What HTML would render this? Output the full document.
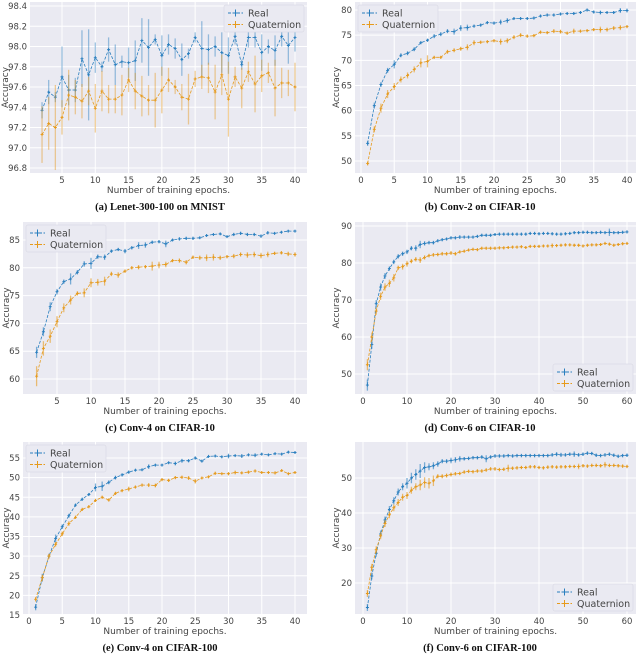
<!DOCTYPE html>
<html><head><meta charset="utf-8"><style>
body{margin:0;background:#fff;}
svg{display:block;font-family:"DejaVu Sans","Liberation Sans",sans-serif;}
.tk{font-size:8.5px;fill:#444;}
.ax{font-size:9px;fill:#444;}
.ttl{font-family:"Liberation Serif",serif;font-weight:bold;font-size:10.5px;fill:#111;}
.lg{font-size:9.5px;fill:#444;}
</style></head><body>
<svg id="fig" width="640" height="660" viewBox="0 0 640 660"></svg>
<script>
// ---- data ----
const aStart = 2;
const aReal = [97.37,97.55,97.5,97.7,97.57,97.57,97.88,97.72,97.89,97.8,97.97,97.82,97.85,97.84,97.86,98.06,97.99,98.07,97.91,98.02,97.98,97.87,97.93,98.09,97.98,97.97,98.0,97.94,97.91,98.1,97.82,98.09,98.09,97.94,98.0,97.96,98.1,98.01,98.09];
const aRealErr = [.08,.12,.05,.3,.15,.12,.28,.45,.15,.05,.12,.2,.06,.15,.2,.22,.28,.05,.2,.1,.1,.16,.05,.05,.27,.15,.1,.2,.18,.08,.05,.1,.1,.18,.07,.15,.1,.18,.14];
const aQuat = [97.13,97.24,97.2,97.3,97.52,97.5,97.46,97.56,97.39,97.56,97.48,97.48,97.52,97.67,97.56,97.51,97.47,97.47,97.57,97.67,97.6,97.5,97.48,97.68,97.7,97.69,97.55,97.72,97.48,97.7,97.59,97.75,97.63,97.71,97.74,97.59,97.64,97.64,97.6];
const aQuatErr = [.28,.26,.42,.17,.25,.17,.17,.14,.24,.2,.14,.14,.2,.12,.18,.2,.15,.27,.23,.12,.07,.13,.25,.08,.12,.15,.27,.2,.37,.1,.2,.1,.28,.16,.1,.28,.15,.13,.24];
const aXTicks = [5,10,15,20,25,30,35,40];
const aYTicks = [96.8,97.0,97.2,97.4,97.6,97.8,98.0,98.2,98.4];

const bStart = 1;
const bReal = [53.5,61,65.2,68,69.2,71,71.4,72.2,73.5,74,74.8,75.2,75.8,75.7,76.4,76.5,76.8,77,77.5,77.4,77.6,77.9,78.3,78.3,78.3,78.4,78.8,79,79,79.2,79.3,79.3,79.5,80,79.6,79.5,79.5,79.5,79.9,79.9];
const bRealErr = [.5,.6,.5,.5,.8,.4,.4,.4,.3,.3,.4,.4,.4,.6,.6,.6,.3,.3,.3,.3,.5,.5,.3,.3,.3,.3,.3,.3,.3,.3,.3,.3,.3,.3,.3,.4,.3,.3,.5,.4];
const bQuat = [49.5,56.3,60.5,63.3,64.8,66.2,67,68.2,69.5,69.8,70.6,70.6,71.7,72,72.3,72.6,73.5,73.6,73.7,73.9,73.7,73.9,74.6,75,74.8,74.9,75.6,75.5,75.8,75.7,75.4,75.8,75.8,75.9,76.1,76.1,76.1,76.4,76.5,76.7];
const bQuatErr = [.4,.6,.9,.8,.7,.6,.6,.6,.9,1.2,.3,.3,.4,.4,.4,.6,.5,.3,.3,.3,.6,.5,.4,.4,.3,.3,.3,.3,.4,.4,.3,.5,.3,.3,.3,.6,.4,.4,.5,.3];
const bXTicks = [0,5,10,15,20,25,30,35,40];
const bYTicks = [50,55,60,65,70,75,80];

const cStart = 2;
const cReal = [64.8,68.5,73,75.7,77.5,78,79.2,80.7,80.8,82,81.9,83,83.3,83,83.6,84,84.1,84.6,84.7,84.3,85,85.2,85.3,85.3,85.4,85.8,86,86.1,85.6,86,86.2,86,86,85.7,86.3,86.2,86.4,86.6,86.6];
const cRealErr = [1,.8,.8,.5,.4,1,.4,.5,1,.4,.5,.3,.3,.4,.3,.6,.5,.3,.3,.6,.2,.3,.3,.3,.2,.2,.2,.2,.2,.3,.3,.3,.3,.3,.3,.2,.2,.2,.2];
const cQuat = [60.5,65.5,67.7,70.3,72.8,74.2,75.4,75.5,77.3,77.4,77.6,78.9,78.7,79.4,80,80.1,80.2,80.3,80.5,80.6,81.3,81.3,81,81.9,81.8,81.8,81.9,81.8,82,82.1,82.4,82.3,82.4,82.2,82.4,82.6,82.7,82.5,82.4];
const cQuatErr = [1.8,1.3,1.2,1,.8,.8,.4,.8,.8,.6,.8,.4,.5,.3,.3,.4,.3,.8,.6,.5,.3,.4,.4,.3,.4,.6,.6,.4,.3,.4,.4,.5,.5,.5,.5,.3,.3,.4,.4];
const cXTicks = [5,10,15,20,25,30,35,40];
const cYTicks = [60,65,70,75,80,85];

const dStart = 1;
const dReal = [47,58,69,73.5,76.5,78.5,80.3,81.8,82.5,83,84,84,85,85.3,85.5,85.5,86,86.3,86.5,86.8,86.8,87,87,87,87,87.2,87.5,87.5,87.5,87.7,87.8,87.8,87.8,87.8,87.8,87.8,87.8,88,88,87.9,88,88,87.9,87.8,87.8,87.9,88,88.2,88.2,88.3,88.3,88.2,88.2,88.3,88.2,88.3,88.2,88.2,88.3,88.4];
const dRealErr = [1.5,1.2,1,1,.8,.6,.6,.6,.6,.6,.6,.8,1,.6,.5,.5,.4,.4,.4,.4,.4,.5,.4,.4,.4,.4,.4,.4,.4,.4,.4,.4,.4,.4,.4,.4,.4,.4,.4,.4,.4,.4,.4,.4,.4,.4,.4,.4,.4,.4,.4,.4,.4,.4,.4,1,.4,.4,.4,.4];
const dQuat = [52.5,60,67,71,73.5,74.5,76,78.7,79,79.8,80.5,81,80.8,81.5,82,82.2,82.3,82.5,82.5,82.7,82.5,83,83.2,83.5,83.7,83.6,84,84,84,84,84.1,84.1,84.2,84.3,84.3,84.4,84.2,84.5,84.5,84.5,84.6,84.6,84.7,84.7,84.8,84.9,84.9,84.8,84.8,84.6,84.8,84.9,84.9,85,85.3,85.1,84.8,85,85.2,85.3];
const dQuatErr = [1.5,1.2,1,1,1,1,1,.6,.8,.8,.6,.6,.8,.6,.5,.5,.5,.5,.5,.5,.5,.4,.4,.4,.4,.4,.4,.4,.4,.4,.4,.4,.4,.4,.4,.4,.4,.4,.4,.4,.4,.4,.6,.4,.4,.4,.4,.4,.4,.4,.4,.4,.4,.4,.4,.4,.4,.4,.4,.4];
const dXTicks = [0,10,20,30,40,50,60];
const dYTicks = [50,60,70,80,90];

const eStart = 1;
const eReal = [17,24.5,30,34.5,37.5,40.3,43,44.5,45.7,47.5,47.8,48.8,50,50.7,51.4,51.9,52,52.8,53.2,53.2,53.8,53.6,54.3,54.3,55,54.2,55.4,55.5,55.3,55.5,55.6,55.5,55.8,55.7,56,55.8,56.1,56,56.5,56.4];
const eRealErr = [.8,1,.6,1,.6,.5,.4,.4,.4,1,1.2,.5,.5,.4,.4,.3,.3,.6,.3,.3,.3,.5,.5,.4,.4,.3,.3,.3,.3,.6,.3,.5,.3,.5,.3,.3,.3,.3,.3,.3];
const eQuat = [19,24.5,30,33,35.7,38.3,39.9,41.9,42.6,44.2,45,44.3,46,46.7,47.1,47.6,48.1,48.1,48,49.5,49.3,50,50.1,49.9,49.1,49.9,50.2,51.1,51,51,51.3,51.2,51.4,51.7,51.3,51.3,51.2,51.8,51,51.3];
const eQuatErr = [.6,.8,.6,.6,.6,.6,.4,.4,.4,.4,.4,.4,.4,.4,.6,.4,.4,.5,.5,.4,.4,.4,.4,.5,.6,.3,.3,.4,.3,.4,.5,.3,.4,.4,.3,.3,.4,.3,.3,.3];
const eXTicks = [0,5,10,15,20,25,30,35,40];
const eYTicks = [15,20,25,30,35,40,45,50,55];

const fStart = 1;
const fReal = [13,22,28.5,34,38,41,43.5,46,47.5,48.5,50,51,52,53,53.2,53.5,54,54.8,54.8,55,55.2,55.5,55.5,55.6,55.8,55.8,56,55.5,56,56.3,56.3,56.3,56.4,56.3,56.4,56.4,56.4,56.4,56.4,56.4,56.4,56.4,56.6,56.8,56.6,56.6,56.8,56.8,56.6,56.8,57.1,57,56.5,56.4,56.6,56.8,56.5,56.2,56.4,56.5];
const fRealErr = [1,1,1,1,1,1,1,1,1,1.5,1.5,1.5,2,1.5,1,1,.8,.6,.6,.8,.8,.8,.5,.5,.5,.5,.5,1,.5,.5,.5,.5,.5,.5,.5,.5,.5,.5,.5,.5,.5,.5,.5,.6,.6,.5,.5,.8,.5,.5,.5,.5,.5,.5,.5,.5,.5,.5,.5,.5];
const fQuat = [17,24.5,29.5,33.5,37,39.5,41.5,43,44.5,45,46.5,47.5,48,48.7,48.5,49.2,50.5,50.5,50.7,51,51.2,51.3,51.7,51.9,51.8,52,52,52.3,52.6,52.6,52.4,52.5,52.8,52.8,52.9,53,53,53.2,53.2,53,52.9,53.1,53.2,53.1,53.2,53.2,53.3,53.3,53.3,53.5,53.4,53.6,53.6,53.5,53.8,53.6,53.6,53.5,53.4,53.3];
const fQuatErr = [1,1,1,1,1,1,1,1,1,1,1,1,1.5,1.5,1.5,1.5,.6,.6,.6,.6,.5,.5,.5,.5,.5,.5,.5,.5,.5,.5,.5,.5,1,.5,.5,.5,.5,.5,.5,.5,.5,.5,.5,.5,.5,.5,.5,.5,.8,.5,.5,.5,.5,.5,.8,.5,.5,.5,.5,.5];
const fXTicks = [0,10,20,30,40,50,60];
const fYTicks = [20,30,40,50];

const titles = ["(a) Lenet-300-100 on MNIST","(b) Conv-2 on CIFAR-10","(c) Conv-4 on CIFAR-10","(d) Conv-6 on CIFAR-10","(e) Conv-4 on CIFAR-100","(f) Conv-6 on CIFAR-100"];

// ---- layout (geometry, not data) ----
const panels = [
 {id:'a',start:aStart,real:aReal,re:aRealErr,quat:aQuat,qe:aQuatErr,xt:aXTicks,yt:aYTicks,L:30,R:307,T:2,B:173,xv:[5,40],xp:[62,295],yv:[96.8,98.4],yp:[168,6],dec:1,leg:'ur',ylx:5,tty:210,cx:160,ea:0.45},
 {id:'b',start:bStart,real:bReal,re:bRealErr,quat:bQuat,qe:bQuatErr,xt:bXTicks,yt:bYTicks,L:355,R:636,T:2,B:173,xv:[0,40],xp:[361,627],yv:[50,80],yp:[161,10],dec:0,leg:'ul',ylx:336,tty:210,cx:480,ea:0.6},
 {id:'c',start:cStart,real:cReal,re:cRealErr,quat:cQuat,qe:cQuatErr,xt:cXTicks,yt:cYTicks,L:23,R:307,T:222,B:394,xv:[5,40],xp:[57,295],yv:[60,85],yp:[379,240],dec:0,leg:'ul',ylx:6,tty:431,cx:160,ea:0.6},
 {id:'d',start:dStart,real:dReal,re:dRealErr,quat:dQuat,qe:dQuatErr,xt:dXTicks,yt:dYTicks,L:355,R:636,T:222,B:394,xv:[0,60],xp:[363,627],yv:[50,90],yp:[374,226],dec:0,leg:'lr',ylx:336,tty:431,cx:480,ea:0.6},
 {id:'e',start:eStart,real:eReal,re:eRealErr,quat:eQuat,qe:eQuatErr,xt:eXTicks,yt:eYTicks,L:23,R:307,T:442,B:614,xv:[0,40],xp:[29,295],yv:[15,55],yp:[615,458],dec:0,leg:'ul',ylx:6,tty:651,cx:160,ea:0.6},
 {id:'f',start:fStart,real:fReal,re:fRealErr,quat:fQuat,qe:fQuatErr,xt:fXTicks,yt:fYTicks,L:355,R:636,T:442,B:614,xv:[0,60],xp:[363,627],yv:[20,50],yp:[583,478],dec:0,leg:'lr',ylx:336,tty:651,cx:480,ea:0.6}
];
const BLUE='#2a7fbf', ORANGE='#e69a1c';
const NS='http://www.w3.org/2000/svg';
const svg=document.getElementById('fig');
function mk(tag,attrs,parent){const e=document.createElementNS(NS,tag);for(const k in attrs)e.setAttribute(k,attrs[k]);(parent||svg).appendChild(e);return e;}

panels.forEach((p,pi)=>{
  const g=mk('g',{});
  
  
  const sx=v=>p.xp[0]+(v-p.xv[0])*(p.xp[1]-p.xp[0])/(p.xv[1]-p.xv[0]);
  const sy=v=>p.yp[0]+(v-p.yv[0])*(p.yp[1]-p.yp[0])/(p.yv[1]-p.yv[0]);
  const bg=mk('rect',{x:p.L,y:p.T,width:p.R-p.L,height:p.B-p.T,fill:'#eaeaf2'},g);
  
  
  p.xt.forEach(t=>{
    const x=sx(t);
    const gl=mk('line',{x1:x,x2:x,y1:p.T,y2:p.B,stroke:'#fff','stroke-width':1},g);
    
    
    const tx=mk('text',{x:x,y:p.B+10,'text-anchor':'middle',class:'tk'},g);
    tx.textContent=t;
    
    
  });
  p.yt.forEach(t=>{
    const y=sy(t);
    const gl=mk('line',{x1:p.L,x2:p.R,y1:y,y2:y,stroke:'#fff','stroke-width':1},g);
    
    
    const tx=mk('text',{x:p.L-3,y:y+3,'text-anchor':'end',class:'tk'},g);
    tx.textContent=t.toFixed(p.dec);
    
    
  });
  [[p.real,p.re,BLUE,'real'],[p.quat,p.qe,ORANGE,'quaternion']].forEach(([vals,errs,col,nm])=>{
    const pts=vals.map((v,i)=>sx(p.start+i).toFixed(1)+','+sy(v).toFixed(1)).join(' ');
    const pl=mk('polyline',{points:pts,fill:'none',stroke:col,'stroke-width':0.8,'stroke-dasharray':'3,1.5'},g);
    
    
    vals.forEach((v,i)=>{
      const x=sx(p.start+i),y=sy(v),e=errs[i];
      const eb=mk('line',{x1:x,x2:x,y1:sy(v-e),y2:sy(v+e),stroke:col,'stroke-width':1.3,'stroke-opacity':p.ea},g);
      
      
      const mkr=mk('path',{d:`M${x-1.5},${y}H${x+1.5}M${x},${y-1.5}V${y+1.5}`,stroke:col,'stroke-width':0.9},g);
      
      
    });
  });
  const xl=mk('text',{x:(p.L+p.R)/2,y:p.B+20,'text-anchor':'middle',class:'ax'},g);
  xl.textContent='Number of training epochs.';
  
  
  const ym=(p.T+p.B)/2;
  const yl=mk('text',{x:p.ylx+3,y:ym,'text-anchor':'middle',class:'ax',transform:`rotate(-90 ${p.ylx+3} ${ym})`},g);
  yl.textContent='Accuracy';
  
  
  const tt=mk('text',{x:p.cx,y:p.tty,'text-anchor':'middle',class:'ttl'},g);
  tt.textContent=titles[pi];
  
  
  const lw=80,lh=27;
  let lx,ly;
  if(p.leg==='ul'){lx=p.L+3;ly=p.T+3;}
  else if(p.leg==='ur'){lx=p.R-lw-3;ly=p.T+3;}
  else {lx=p.R-lw-3;ly=p.B-lh-3;}
  const lg=mk('g',{},g);
  
  
  mk('rect',{x:lx,y:ly,width:lw,height:lh,fill:'#eaeaf2',stroke:'#dcdce6','stroke-width':0.8,rx:2},lg);
  [['Real',BLUE],['Quaternion',ORANGE]].forEach(([lab,col],k)=>{
    const yy=ly+8+k*11.5;
    const ent=mk('g',{},lg);
    
    
    mk('line',{x1:lx+4,x2:lx+19,y1:yy,y2:yy,stroke:col,'stroke-width':0.9,'stroke-dasharray':'3,1.5'},ent);
    mk('path',{d:`M${lx+9.5},${yy}H${lx+13.5}M${lx+11.5},${yy-3.5}V${yy+3.5}`,stroke:col,'stroke-width':1},ent);
    const t=mk('text',{x:lx+24,y:yy+3.3,class:'lg'},ent);
    t.textContent=lab;
  });
});
</script>
</body></html>
